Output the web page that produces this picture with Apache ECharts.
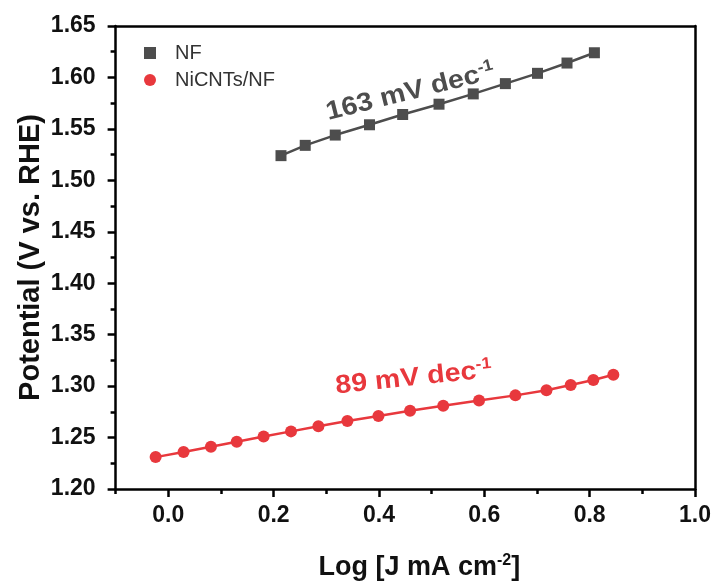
<!DOCTYPE html>
<html>
<head>
<meta charset="utf-8">
<script src="https://cdn.jsdelivr.net/npm/echarts@6/dist/echarts.min.js"></script>
<style>
html,body{margin:0;padding:0;background:#fff;}
#chart{width:717px;height:586px;}
</style>
</head>
<body>
<div id="chart"></div>
<script>
// ---- data ----
const nfX = [0.214, 0.260, 0.317, 0.382, 0.445, 0.514, 0.579, 0.640, 0.701, 0.757, 0.809];
const nfY = [1.524, 1.534, 1.544, 1.554, 1.564, 1.574, 1.584, 1.594, 1.604, 1.614, 1.624];
const niX = [-0.024, 0.029, 0.081, 0.130, 0.181, 0.233, 0.285, 0.340, 0.399, 0.459, 0.522, 0.590, 0.659, 0.718, 0.764, 0.807, 0.845];
const niY = [1.231, 1.236, 1.241, 1.246, 1.251, 1.256, 1.261, 1.266, 1.271, 1.276, 1.281, 1.286, 1.291, 1.296, 1.301, 1.306, 1.311];
const seriesNames = ['NF', 'NiCNTs/NF'];
const xMajorTicks = [0.0, 0.2, 0.4, 0.6, 0.8, 1.0];
const xMinorTicks = [-0.1, 0.1, 0.3, 0.5, 0.7, 0.9];
const annoText = ['163 mV dec', '89 mV dec'];
const annoX = [0.307, 0.3205];
const annoY = [1.5517, 1.2858];

const FONT = '"Liberation Sans", Arial, sans-serif';
const GRAY = '#4d4d4d';
const RED = '#e8383d';

const chart = echarts.init(document.getElementById('chart'), null, {renderer: 'canvas'});

function pairs(xs, ys) { return xs.map((x, i) => [x, ys[i]]); }

const option = {
  backgroundColor: '#fff',
  animation: false,
  textStyle: {fontFamily: FONT},
  grid: {left: 115.6, right: 22, top: 26, bottom: 93, containLabel: false},
  legend: {
    orient: 'vertical',
    left: 139, top: 38,
    itemWidth: 12, itemHeight: 12,
    itemGap: 7,
    textStyle: {fontSize: 20, color: '#333', fontFamily: FONT, padding: [0, 0, 0, 14]},
    data: [
      {name: seriesNames[0], icon: 'rect', itemStyle: {color: GRAY}},
      {name: seriesNames[1], icon: 'circle', itemStyle: {color: RED}}
    ]
  },
  xAxis: [
    {
      type: 'value', position: 'bottom', min: -0.1, max: 1.0,
      axisLine: {show: true, onZero: false, lineStyle: {color: '#000', width: 2.5}},
      axisTick: {show: true, inside: false, length: 8, lineStyle: {color: '#000', width: 2.5}, customValues: xMajorTicks},
      axisLabel: {show: true, margin: 15, fontSize: 23, fontWeight: 'bold', color: '#111', fontFamily: FONT,
        customValues: xMajorTicks, formatter: v => v.toFixed(1)},
      splitLine: {show: false},
      name: 'Log [J mA cm{s|-2}]',
      nameLocation: 'middle', nameGap: 64,
      nameTextStyle: {fontSize: 27, fontWeight: 'bold', color: '#111', fontFamily: FONT, padding: [0, 0, 0, 28],
        rich: {s: {fontSize: 16, fontWeight: 'bold', color: '#111', fontFamily: FONT, verticalAlign: 'top', padding: [0, 0, 13, 0]}}}
    },
    {
      type: 'value', position: 'bottom', min: -0.1, max: 1.0,
      axisLine: {show: false, onZero: false},
      axisTick: {show: true, inside: false, length: 5, lineStyle: {color: '#000', width: 2.5}, customValues: xMinorTicks},
      axisLabel: {show: false, customValues: xMinorTicks},
      splitLine: {show: false}
    },
    {
      type: 'value', position: 'top', min: -0.1, max: 1.0,
      axisLine: {show: true, onZero: false, lineStyle: {color: '#000', width: 2.5}},
      axisTick: {show: false}, axisLabel: {show: false}, splitLine: {show: false}
    }
  ],
  yAxis: [
    {
      type: 'value', position: 'left', min: 1.2, max: 1.65, interval: 0.05,
      axisLine: {show: true, onZero: false, lineStyle: {color: '#000', width: 2.5}},
      axisTick: {show: true, inside: false, length: 8, lineStyle: {color: '#000', width: 2.5}},
      minorTick: {show: true, splitNumber: 2, length: 5, lineStyle: {color: '#000', width: 2.5}},
      axisLabel: {show: true, margin: 20, fontSize: 23, fontWeight: 'bold', color: '#111', fontFamily: FONT,
        formatter: v => v.toFixed(2)},
      splitLine: {show: false},
      name: 'Potential (V vs. RHE)',
      nameLocation: 'middle', nameGap: 70,
      nameMoveOverlap: false,
      nameTextStyle: {fontSize: 29, fontWeight: 'bold', color: '#111', fontFamily: FONT}
    },
    {
      type: 'value', position: 'right', min: 1.2, max: 1.65, interval: 0.05,
      axisLine: {show: true, onZero: false, lineStyle: {color: '#000', width: 2.5}},
      axisTick: {show: false}, axisLabel: {show: false}, splitLine: {show: false}
    }
  ],
  series: [
    {
      name: seriesNames[0], type: 'line', xAxisIndex: 0, yAxisIndex: 0,
      data: pairs(nfX, nfY),
      symbol: 'rect', symbolSize: 11,
      itemStyle: {color: GRAY},
      lineStyle: {color: GRAY, width: 2.5}
    },
    {
      name: seriesNames[1], type: 'line', xAxisIndex: 0, yAxisIndex: 0,
      data: pairs(niX, niY),
      symbol: 'circle', symbolSize: 12,
      itemStyle: {color: RED},
      lineStyle: {color: RED, width: 2.5}
    }
  ]
};
chart.setOption(option);

const annoColor = [GRAY, RED];
const annoRot = [14, 6];
const graphics = annoText.map((t, i) => {
  const p = chart.convertToPixel({xAxisIndex: 0, yAxisIndex: 0}, [annoX[i], annoY[i]]);
  return {
    type: 'text', x: p[0], y: p[1], rotation: annoRot[i] * Math.PI / 180, scaleX: 1.1,
    style: {
      text: '{m|' + t + '}{s|-1}',
      align: 'left', verticalAlign: 'bottom',
      rich: {
        m: {fontSize: 26, fontWeight: 'bold', fill: annoColor[i], fontFamily: FONT},
        s: {fontSize: 16, fontWeight: 'bold', fill: annoColor[i], fontFamily: FONT, verticalAlign: 'top', padding: [0, 0, 13, 0]}
      }
    },
    z: 100
  };
});
chart.setOption({graphic: graphics});
</script>
</body>
</html>
